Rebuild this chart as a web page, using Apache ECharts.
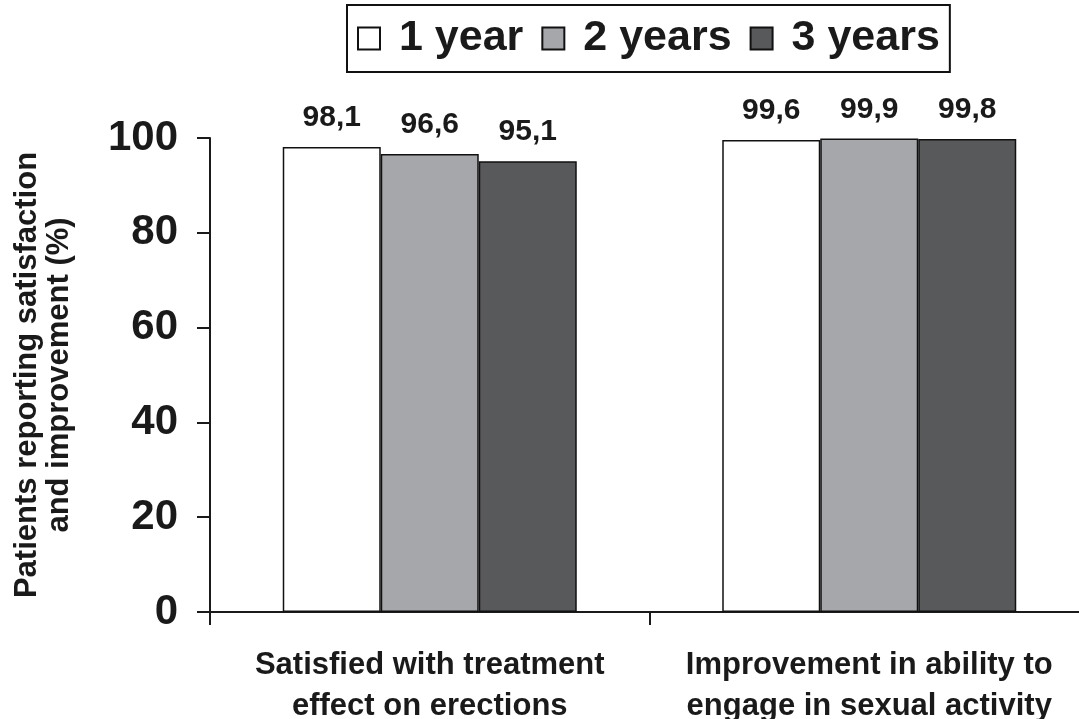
<!DOCTYPE html>
<html>
<head>
<meta charset="utf-8">
<script src="https://cdn.jsdelivr.net/npm/echarts@6/dist/echarts.min.js"></script>
<style>html,body{margin:0;padding:0;background:#fff;}#c{width:1079px;height:719px;}</style>
</head>
<body>
<div id="c"></div>
<script>
var categories = ['Satisfied with treatment\neffect on erections', 'Improvement in ability to\nengage in sexual activity'];
var seriesNames = ['1 year', '2 years', '3 years'];
var year1 = [98.1, 99.6];
var year2 = [96.6, 99.9];
var year3 = [95.1, 99.8];
var yTicks = [0, 20, 40, 60, 80, 100];
var colors = ['#ffffff', '#a6a7aa', '#58595b'];

var sans = '"Liberation Sans", Arial, sans-serif';

function mk(name, data, color) {
  return {
    name: name, type: 'bar', data: data, barWidth: 98, barGap: '0%',
    itemStyle: { color: color, borderColor: '#111', borderWidth: 1.5 },
    label: {
      show: true, position: 'top', distance: 14,
      fontFamily: sans, fontWeight: 'bold', fontSize: 30, color: '#1a1a1a',
      formatter: function (p) { return p.value.toFixed(1).replace('.', ','); }
    }
  };
}

var chart = echarts.init(document.getElementById('c'));
chart.setOption({
  animation: false,
  backgroundColor: '#fff',
  legend: {
    left: 347, top: 5,
    data: seriesNames,
    borderColor: '#111', borderWidth: 2,
    padding: [12, 10, 12, 10],
    itemWidth: 22, itemHeight: 22, itemGap: 18,
    icon: 'rect',
    textStyle: { fontFamily: sans, fontWeight: 'bold', fontSize: 43, color: '#1a1a1a', padding: [0, 0, 0, 14] }
  },
  grid: { left: 210, right: -10, top: 138, bottom: 107, containLabel: false, outerBoundsMode: 'none' },
  xAxis: {
    type: 'category', data: categories,
    axisLine: { lineStyle: { color: '#1a1a1a', width: 2 } },
    axisTick: { show: true, length: 13, lineStyle: { color: '#1a1a1a', width: 2 } },
    axisLabel: { margin: 33, fontFamily: sans, fontWeight: 'bold', fontSize: 31, lineHeight: 41, color: '#1a1a1a', interval: 0 }
  },
  yAxis: {
    type: 'value', min: 0, max: 100, interval: 20,
    name: 'Patients reporting satisfaction\nand improvement (%)',
    nameLocation: 'middle', nameGap: 135,
    nameTextStyle: { fontFamily: sans, fontWeight: 'bold', fontSize: 31, lineHeight: 32, color: '#1a1a1a' },
    axisLine: { show: true, lineStyle: { color: '#1a1a1a', width: 2 } },
    axisTick: { show: true, length: 13, lineStyle: { color: '#1a1a1a', width: 2 } },
    splitLine: { show: false },
    axisLabel: {
      margin: 32, fontFamily: sans, fontWeight: 'bold', fontSize: 42, color: '#1a1a1a',
      formatter: function (v) { return yTicks.indexOf(v) >= 0 ? String(v) : ''; }
    }
  },
  series: [mk(seriesNames[0], year1, colors[0]), mk(seriesNames[1], year2, colors[1]), mk(seriesNames[2], year3, colors[2])]
});
</script>
</body>
</html>
